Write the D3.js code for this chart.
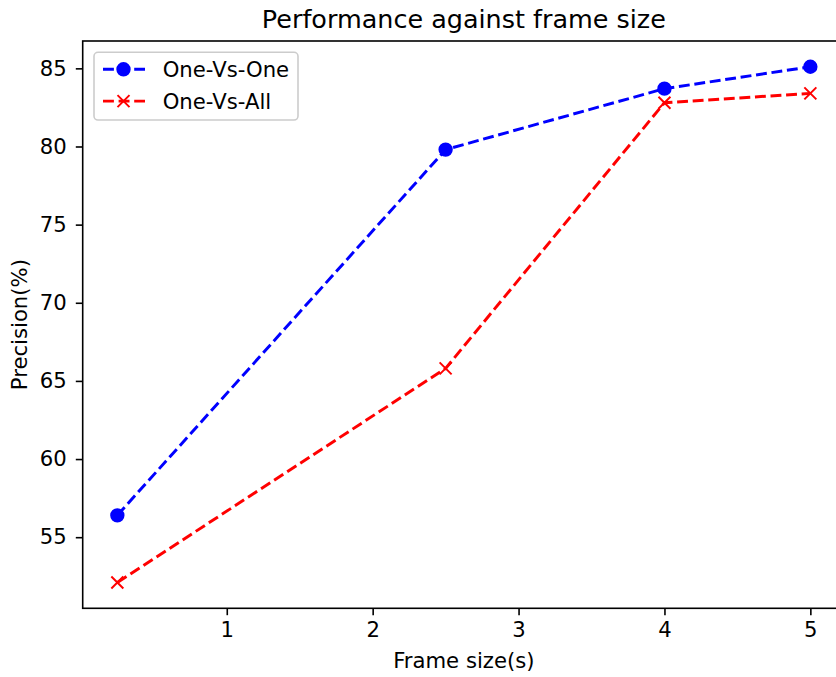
<!doctype html>
<html lang="en">

<head>
	<meta charset="utf-8">
	<title>Performance against frame size</title>
	<style>
		body { margin: 0; background: #fff; }
		svg { display: block; font-family: "DejaVu Sans", sans-serif; }
	</style>
</head>

<body>
	<svg id="ChartArea" width="836" height="677"></svg>

	<script src="https://cdn.jsdelivr.net/npm/d3@7/dist/d3.min.js"></script>
	<script>
		// values
		var frameSizes = [ 0.25, 2.5, 4, 5 ];
		var oneVsOne = [ 56.4, 79.8, 83.7, 85.1 ];
		var oneVsAll = [ 52.1, 65.8, 82.8, 83.4 ];
		var seriesNames = [ "One-Vs-One", "One-Vs-All" ];
		var xTicks = [ 1, 2, 3, 4, 5 ];
		var yTicks = [ 55, 60, 65, 70, 75, 80, 85 ];

		(function () {
			"use strict"

			var DOM = {};
			DOM.svg = d3.select("#ChartArea");

			// axes box; the right spine falls just outside the picture, like the original
			var box = { left: 82.7, right: 845, top: 41, bottom: 608.3 },
				fontPx = 21.2,
				lw = 2.95;

			// matplotlib-style auto limits: 5% margin around the data
			var xExt = d3.extent(frameSizes),
				yExt = d3.extent(oneVsOne.concat(oneVsAll)),
				xPad = (xExt[1] - xExt[0]) * 0.05,
				yPad = (yExt[1] - yExt[0]) * 0.05;

			var x = d3.scaleLinear([ xExt[0] - xPad, xExt[1] + xPad ], [ box.left, box.right ]),
				y = d3.scaleLinear([ yExt[0] - yPad, yExt[1] + yPad ], [ box.bottom, box.top ]);

			var series = [
				{ name: seriesNames[0], values: oneVsOne, color: "#0000ff", marker: "circle" },
				{ name: seriesNames[1], values: oneVsAll, color: "#ff0000", marker: "x" }
			];

			// axes with ticks
			DOM.svg.append("g")
				.attr("transform", "translate(0," + box.bottom + ")")
				.call(d3.axisBottom(x).tickValues(xTicks).tickFormat(d3.format("d")).tickSize(6.9).tickPadding(6.5))
				.call(styleAxis);

			DOM.svg.append("g")
				.attr("transform", "translate(" + box.left + ",0)")
				.call(d3.axisLeft(y).tickValues(yTicks).tickFormat(d3.format("d")).tickSize(6.9).tickPadding(9))
				.call(styleAxis);

			function styleAxis(g) {
				g.select(".domain").remove();
				g.selectAll(".tick line").attr("stroke", "#000").attr("stroke-width", 1.6);
				g.selectAll(".tick text")
					.attr("fill", "#000")
					.attr("font-size", fontPx)
					.attr("font-family", "DejaVu Sans");
			}

			// spines
			DOM.svg.append("rect")
				.attr("x", box.left)
				.attr("y", box.top)
				.attr("width", box.right - box.left)
				.attr("height", box.bottom - box.top)
				.attr("fill", "none")
				.attr("stroke", "#000")
				.attr("stroke-width", 1.6);

			var line = d3.line()
				.x(function (d, i) { return x(frameSizes[i]); })
				.y(function (d) { return y(d); });

			function drawMarker(g, kind, color) {
				if (kind === "circle") {
					g.append("circle")
						.attr("r", 6.2)
						.attr("fill", color)
						.attr("stroke", color)
						.attr("stroke-width", 1.97);
				} else {
					var s = 6;
					g.append("path")
						.attr("d", "M" + (-s) + "," + (-s) + "L" + s + "," + s + "M" + (-s) + "," + s + "L" + s + "," + (-s))
						.attr("fill", "none")
						.attr("stroke", color)
						.attr("stroke-width", 1.97);
				}
			}

			series.forEach(function (s) {
				DOM.svg.append("path")
					.datum(s.values)
					.attr("fill", "none")
					.attr("stroke", s.color)
					.attr("stroke-width", lw)
					.attr("stroke-dasharray", "10.9,4.7")
					.attr("d", line);

				s.values.forEach(function (v, i) {
					var g = DOM.svg.append("g")
						.attr("transform", "translate(" + x(frameSizes[i]) + "," + y(v) + ")");
					drawMarker(g, s.marker, s.color);
				});
			});

			// title and axis labels
			DOM.svg.append("text")
				.attr("x", (box.left + box.right) / 2)
				.attr("y", 27.5)
				.attr("text-anchor", "middle")
				.attr("font-size", fontPx * 1.2)
				.text("Performance against frame size");

			DOM.svg.append("text")
				.attr("x", (box.left + box.right) / 2)
				.attr("y", 667.5)
				.attr("text-anchor", "middle")
				.attr("font-size", fontPx)
				.text("Frame size(s)");

			DOM.svg.append("text")
				.attr("transform", "translate(26.5," + (box.top + box.bottom) / 2 + ") rotate(-90)")
				.attr("text-anchor", "middle")
				.attr("font-size", fontPx)
				.text("Precision(%)");

			// legend
			var legend = DOM.svg.append("g");
			legend.append("rect")
				.attr("x", 94)
				.attr("y", 52.3)
				.attr("width", 204)
				.attr("height", 67.7)
				.attr("rx", 4)
				.attr("fill", "#fff")
				.attr("fill-opacity", 0.8)
				.attr("stroke", "#cccccc")
				.attr("stroke-width", 1.6);

			series.forEach(function (s, i) {
				var cy = 69.3 + i * 31.8;
				legend.append("line")
					.attr("x1", 102)
					.attr("x2", 145)
					.attr("y1", cy)
					.attr("y2", cy)
					.attr("stroke", s.color)
					.attr("stroke-width", lw)
					.attr("stroke-dasharray", "10.9,4.7")
					.attr("stroke-dashoffset", -1);
				var g = legend.append("g").attr("transform", "translate(123.5," + cy + ")");
				drawMarker(g, s.marker, s.color);
				legend.append("text")
					.attr("x", 162.7)
					.attr("y", cy + 7.5)
					.attr("font-size", fontPx)
					.text(s.name);
			});
		})();
	</script>
</body>

</html>
